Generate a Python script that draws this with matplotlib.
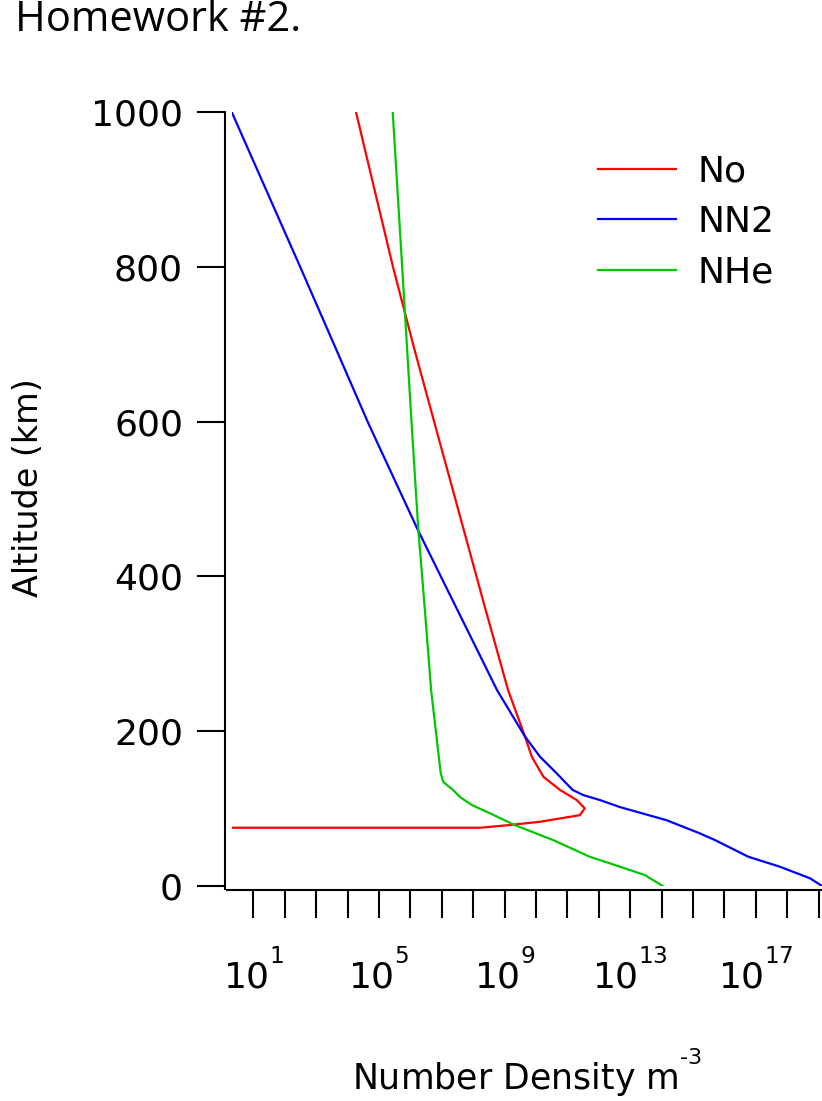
import matplotlib
matplotlib.use("Agg")
import matplotlib.pyplot as plt
from matplotlib.ticker import FixedLocator, FuncFormatter, NullLocator
import numpy as np

plt.rcParams["axes.unicode_minus"] = False
# smaller, higher superscripts (like the reference's Igor-style exponents)
try:
    import matplotlib._mathtext as _mt
    _mt.SHRINK_FACTOR = 0.64
    for _cls in ("FontConstantsBase", "DejaVuSansFontConstants", "DejaVuSerifFontConstants"):
        if hasattr(_mt, _cls):
            getattr(_mt, _cls).sup1 = 1.25
except Exception:
    pass

# ---- data ----
alt_o = [1000, 800, 692, 597, 480, 365, 253, 193, 167, 141, 124, 111, 100.3, 91.5, 83, 78.8, 75.3, 75.3]
n_o = [1.86e4, 2.8e5, 1.38e6, 6.0e6, 3.7e7, 2.2e8, 1.3e9, 4.5e9, 7.4e9, 1.74e10, 5.9e10,
       2.0e11, 3.6e11, 2.5e11, 1.35e10, 1.5e9, 1.7e8, 2.05e0]

alt_n2 = [1000, 800, 692, 597, 460, 365, 253, 193, 167, 145.5, 132.5, 124, 117.5, 111, 102, 85,
          68, 59.4, 37.8, 24.9, 9.9, 0]
n_n2 = [2.05e0, 3.1e2, 4.5e3, 4.7e4, 1.74e6, 2.5e7, 5.8e8, 4.5e9, 1.35e10, 4.6e10, 9.3e10,
        1.5e11, 3.2e11, 1.1e12, 4.7e12, 1.45e14, 1.66e15, 5.0e15, 5.8e16, 5.9e17, 5.4e18, 1.29e19]

alt_he = [1000, 800, 597, 460, 365, 253, 145.5, 134.5, 124, 115, 104.6, 93.8, 78.8, 59.4,
          37.8, 25, 14, 0]
n_he = [2.75e5, 5.5e5, 1.1e6, 1.8e6, 2.8e6, 4.6e6, 9.3e6, 1.12e7, 2.3e7, 3.8e7, 9.1e7,
        3.5e8, 2.1e9, 3.5e10, 5.2e11, 4.7e12, 3.0e13, 1.1e14]

series_names = ["No", "NN2", "NHe"]
series_colors = ["#ff0000", "#0000ff", "#00c800"]
y_ticks = [0, 200, 400, 600, 800, 1000]
x_tick_exps = list(range(1, 20))
x_label_exps = [1, 5, 9, 13, 17]

W, H = 822, 1101
fig = plt.figure(figsize=(W / 100, H / 100), dpi=100)
left, right, top, bottom = 231.7, 822, 112, 886
ax = fig.add_axes([left / W, 1 - bottom / H, (right - left) / W, (bottom - top) / H])

for alt, n, name, c in zip([alt_o, alt_n2, alt_he], [n_o, n_n2, n_he], series_names, series_colors):
    ax.plot(n, alt, color=c, lw=1.6, label=name, solid_joinstyle="round")

ax.set_xscale("log")
ax.set_xlim(min(n_n2), max(n_n2))
ax.set_ylim(0, 1000)

for s in ["top", "right"]:
    ax.spines[s].set_visible(False)
ax.spines["left"].set_position(("outward", 5))
ax.spines["bottom"].set_position(("outward", 3))
ax.spines["left"].set_linewidth(1.5)
ax.spines["bottom"].set_linewidth(1.5)
ax.spines["left"].set_bounds(-3.9, 1000)
ax.spines["bottom"].set_bounds(10 ** 0.153, max(n_n2))

ax.yaxis.set_major_locator(FixedLocator(y_ticks))
ax.yaxis.set_minor_locator(NullLocator())
ax.xaxis.set_major_locator(FixedLocator([10.0 ** e for e in x_tick_exps]))
ax.xaxis.set_minor_locator(NullLocator())


def xfmt(v, pos):
    e = int(round(np.log10(v)))
    if e in x_label_exps:
        return r"$\mathregular{10^{%d}}$" % e
    return ""


ax.xaxis.set_major_formatter(FuncFormatter(xfmt))
ax.tick_params(axis="both", direction="out", length=20, width=1.5, labelsize=26,
               colors="black")
ax.tick_params(axis="y", pad=10)
ax.tick_params(axis="x", pad=22)

ax.set_ylabel("Altitude (km)", fontsize=24)
ax.yaxis.label.set_verticalalignment("center")
ax.yaxis.set_label_coords(-0.3434, 0.5149)
ax.set_xlabel("Number Density m$^{\\mathregular{\u2010" + "3}}$", fontsize=25)
ax.xaxis.set_label_coords(0.5, -0.207)

leg = ax.legend(loc="upper left", bbox_to_anchor=((584 - left) / (right - left), (bottom - 140) / (bottom - top)),
                frameon=False, fontsize=26, handlelength=2.15, handletextpad=0.6,
                labelspacing=0.46, borderaxespad=0)

fig.text(15 / W, 1 - 31 / H, "Homework #2.", fontsize=30, family="Open Sans",
         ha="left", va="baseline")

fig.savefig("out.png", dpi=100)
